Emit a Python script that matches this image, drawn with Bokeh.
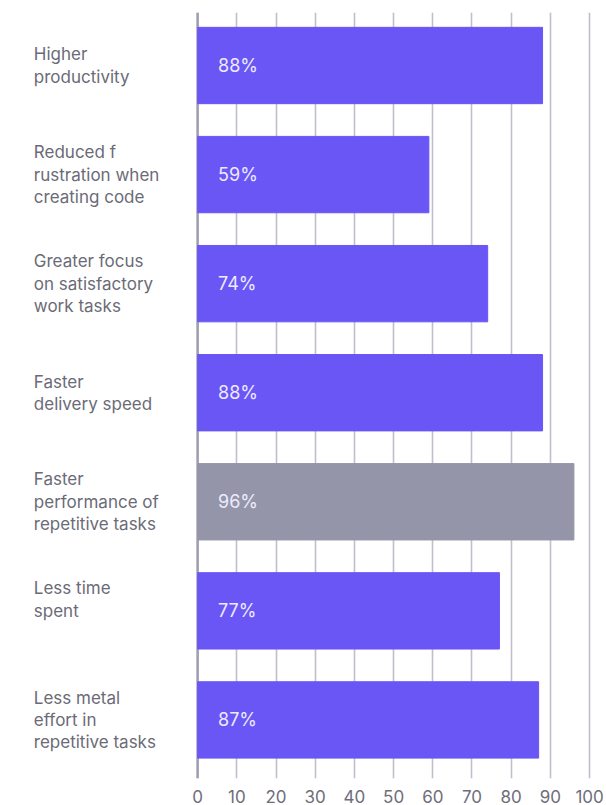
from bokeh.plotting import figure
from bokeh.models import Range1d, FixedTicker, ColumnDataSource
from bokeh.core.properties import value
from bokeh.embed import file_html
from bokeh.resources import INLINE

categories = [
    "Higher\nproductivity",
    "Reduced f\nrustration when\ncreating code",
    "Greater focus\non satisfactory\nwork tasks",
    "Faster\ndelivery speed",
    "Faster\nperformance of\nrepetitive tasks",
    "Less time\nspent\n ",
    "Less metal\neffort in\nrepetitive tasks",
]
values = [88, 59, 74, 88, 96, 77, 87]
highlight = [False, False, False, False, True, False, False]
ticks = [0, 10, 20, 30, 40, 50, 60, 70, 80, 90, 100]

PURPLE = "#6a55f5"
GREY = "#9595a9"
FONT = "Inter"

Y0, Y1 = -0.486, 6.537

pos = list(range(len(categories)))
src = ColumnDataSource(dict(
    y=pos,
    v=values,
    cat=categories,
    color=[GREY if h else PURPLE for h in highlight],
    lab=[f"{v}%" for v in values],
))

p = figure(width=606, height=805, output_backend="svg", toolbar_location=None,
           x_range=Range1d(-50.3, 101.0), y_range=Range1d(Y1, Y0),
           min_border_left=0, min_border_right=13, min_border_top=12, min_border_bottom=0)
p.outline_line_color = None
p.background_fill_color = "white"
p.border_fill_color = "white"

p.yaxis.visible = False
p.ygrid.visible = False

p.xaxis.ticker = FixedTicker(ticks=ticks)
p.xgrid.ticker = FixedTicker(ticks=ticks)
p.xgrid.grid_line_color = "#c0bfcc"
p.xgrid.grid_line_width = 1.6
p.xaxis.axis_line_color = None
p.xaxis.major_tick_line_color = None
p.xaxis.minor_tick_line_color = None
p.xaxis.major_label_text_font = FONT
p.xaxis.major_label_text_font_size = "17px"
p.xaxis.major_label_text_font_style = "normal"
p.xaxis.major_label_text_color = "#6e6e7a"
p.xaxis.major_label_standoff = 5

# darker zero line
p.segment(x0=[0], x1=[0], y0=[Y0], y1=[Y1], line_color="#a09fb1", line_width=2.5)

p.hbar(y="y", right="v", left=0, height=0.7, color="color", source=src)

p.text(x=-41.8, y="y", text="cat", source=src, text_font=value(FONT),
       text_font_size="17px", text_color="#6b6b77", text_baseline="middle",
       text_align="left", text_line_height=1.12)

p.text(x=5.2, y="y", text="lab", source=src, text_font=value(FONT),
       text_font_size="18px", text_color="#ecebff", text_baseline="middle",
       text_align="left")

open("out.html", "w").write(file_html(p, INLINE))
